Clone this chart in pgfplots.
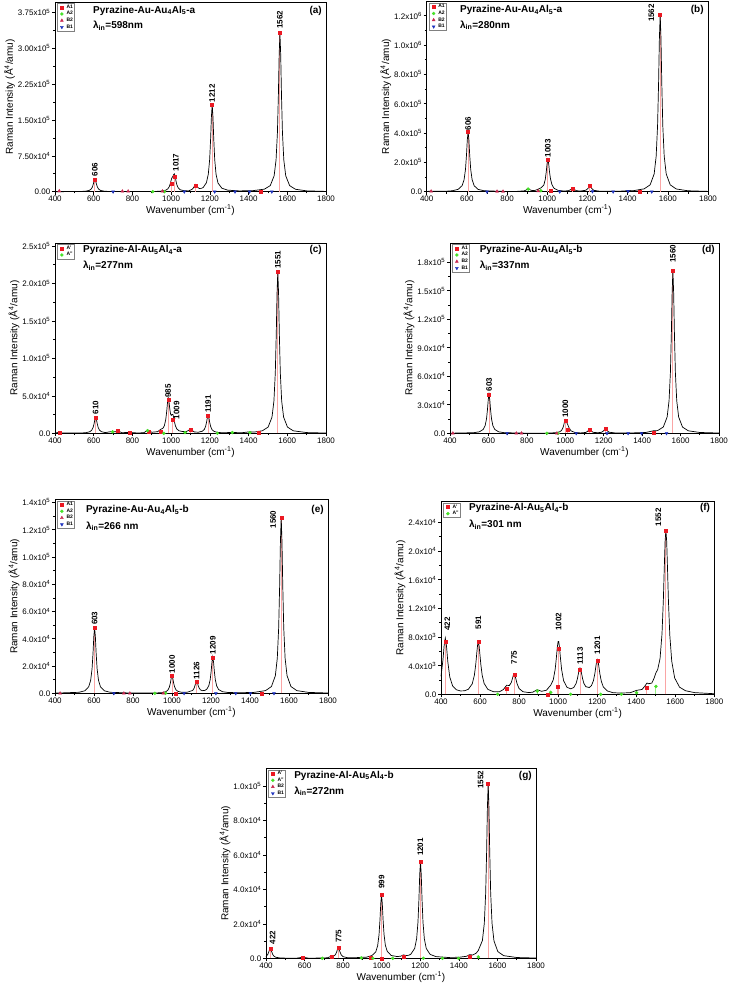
\documentclass[border=0pt]{standalone}
\usepackage{fontspec}
\setmainfont{Liberation Sans}
\usepackage{pgfplots}
\pgfplotsset{compat=1.18}

\definecolor{ra}{RGB}{235,25,35}
\definecolor{ga}{RGB}{70,225,40}
\definecolor{tb}{RGB}{200,40,80}
\definecolor{bb}{RGB}{30,50,190}
\definecolor{pk}{RGB}{250,165,165}
\definecolor{lg}{RGB}{150,240,130}

\pgfplotsset{
  ram/.style={
    scale only axis, anchor=south west, clip=false,
    xmin=400, xmax=1800, ymin=0,
    xtick={400,600,800,1000,1200,1400,1600,1800},
    minor x tick num=1, minor y tick num=1,
    tick align=outside, tick pos=left,
    major tick length=3pt, minor tick length=1.8pt,
    every tick/.style={black, line width=0.6pt},
    axis line style={line width=0.7pt},
    /pgf/number format/assume math mode=true,
    /pgf/number format/1000 sep={},
    ticklabel style={font=\fontsize{8}{9}\selectfont, inner sep=1.5pt},
    xlabel={Wavenumber (cm\textsuperscript{-1})},
    ylabel={Raman Intensity (Å\textsuperscript{4}/amu)},
    label style={font=\fontsize{10}{12}\selectfont},
    xlabel style={yshift=2pt}, ylabel style={yshift=-2pt},
    scaled y ticks=false,
    legend cell align=left,
    legend style={at={(0.008,0.993)}, anchor=north west, draw=gray, line width=0.4pt,
      font=\fontsize{5}{5.5}\selectfont\bfseries, inner sep=0.6pt, row sep=0pt,
      nodes={inner sep=0.8pt}},
    legend image code/.code={\path (0cm,0cm) (0.26cm,0cm); \draw[##1] plot coordinates {(0.13cm,0cm)};},
  },
  curve/.style={black, line width=0.7pt, forget plot},
  stick/.style={ycomb, color=pk, line width=1pt, forget plot, mark=none},
  gstick/.style={ycomb, color=lg, line width=1pt, forget plot, mark=none},
  mA/.style={only marks, mark=square*, mark size=1.5pt, color=ra},
  mB/.style={only marks, mark=*, mark size=1.5pt, color=ga},
  mC/.style={only marks, mark=triangle*, mark size=1.7pt, color=tb},
  mD/.style={only marks, mark=triangle*, mark size=1.7pt, color=bb, every mark/.append style={rotate=180}},
}
\tikzset{
  lab/.style={rotate=90, anchor=west, font=\fontsize{8}{9}\selectfont\bfseries, inner sep=0.5pt},
  ttl/.style={anchor=west, font=\fontsize{10}{12}\selectfont\bfseries, inner sep=0pt},
}

\begin{document}
\begin{tikzpicture}
\path[use as bounding box] (0,0) rectangle (729pt,-992pt);

% (a)
\begin{axis}[ram, at={(55pt,-191.7pt)}, width=271pt, height=189.7pt, ymax=397000,
  ytick={0,75000,150000,225000,300000,375000},
  yticklabels={0.00,7.50x10\textsuperscript{4},1.50x10\textsuperscript{5},2.25x10\textsuperscript{5},3.00x10\textsuperscript{5},3.75x10\textsuperscript{5}}]
\addplot[stick] coordinates {(606,26000)(1003,17500)(1017,31500)(1126,12600)(1212,182000)(1464,1000)(1562,332000)};
\addplot[curve] coordinates {(400,0)(500,230)(526,400)(556,1000)(576,2600)(586,5200)(593,9700)(598,15900)(602,22400)(606,26000)(610,22400)(614,15900)(619,9700)(626,5200)(636,2600)(656,1000)(686,400)(750,100)(850,200)(923,620)(953,1424)(973,3300)(983,6000)(990,10300)(995,16065)(999,22500)(1003,28140)(1007,30835)(1010,32885)(1013,35900)(1017,37415)(1021,31280)(1025,22200)(1030,13830)(1037,7690)(1047,4010)(1067,1980)(1090,1710)(1106,4524)(1113,6865)(1118,10030)(1122,13370)(1126,15290)(1130,13780)(1134,10870)(1139,8260)(1146,6800)(1156,7000)(1166,8950)(1182,18600)(1192,36700)(1199,67700)(1204,111000)(1208,156900)(1212,182000)(1216,156900)(1220,111000)(1225,67700)(1232,36400)(1242,18200)(1262,7370)(1292,3255)(1350,1690)(1420,2060)(1482,5360)(1512,12780)(1532,33200)(1542,66400)(1549,123500)(1554,202500)(1558,286200)(1562,332000)(1566,286200)(1570,202500)(1575,123500)(1582,66400)(1592,33200)(1612,12780)(1642,5110)(1700,1740)(1800,585)};
\addplot[mA] coordinates {(606,26000)(1003,17500)(1017,31500)(1126,12600)(1212,182000)(1464,1000)(1562,332000)};
\addplot[mB] coordinates {(905,0)(965,0)};
\addplot[mC] coordinates {(422,1500)(748,1000)(778,1000)(955,1000)};
\addplot[mD] coordinates {(700,0)(1068,0)(1225,0)(1330,0)(1405,0)(1520,0)};
\legend{A1,A2,B2,B1}
\node[lab] at (axis cs:606,31000) {606};
\node[lab] at (axis cs:1025,41000) {1017};
\node[lab] at (axis cs:1212,186000) {1212};
\node[lab] at (axis cs:1562,340000) {1562};
\node[ttl] at (rel axis cs:0.14,0.955) {Pyrazine-Au-Au\textsubscript{4}Al\textsubscript{5}-a};
\node[ttl] at (rel axis cs:0.14,0.875) {λ\textsubscript{in}=598nm};
\node[ttl, anchor=east] at (rel axis cs:0.985,0.955) {(a)};
\end{axis}

% (b)
\begin{axis}[ram, at={(426.7pt,-191.7pt)}, width=281.3pt, height=190.2pt, ymax=1297000,
  ytick={0,200000,400000,600000,800000,1000000,1200000},
  yticklabels={0.0,2.0x10\textsuperscript{5},4.0x10\textsuperscript{5},6.0x10\textsuperscript{5},8.0x10\textsuperscript{5},1.0x10\textsuperscript{6},1.2x10\textsuperscript{6}}]
\addplot[stick] coordinates {(606,409000)(1003,218000)(1018,7000)(1126,23000)(1212,39000)(1462,3000)(1562,1210000)};
\addplot[curve] coordinates {(400,1500)(422,4200)(445,2600)(500,3600)(526,6300)(556,15700)(576,40900)(586,81800)(593,152100)(598,249500)(602,352600)(606,409000)(610,352600)(614,249500)(619,152100)(626,81800)(636,40900)(656,15750)(686,6300)(750,3500)(800,1800)(850,2200)(885,5700)(895,11300)(905,20650)(915,12200)(925,8000)(940,9050)(955,17400)(968,25760)(983,46300)(990,83100)(995,135000)(999,190000)(1003,220000)(1007,191200)(1011,137700)(1016,87800)(1023,49200)(1033,24000)(1053,9400)(1083,4500)(1106,7000)(1116,13600)(1126,24950)(1136,13400)(1146,6540)(1166,4700)(1192,9800)(1202,21350)(1212,40800)(1222,20850)(1232,9200)(1262,2850)(1320,2400)(1380,4500)(1402,7700)(1430,7240)(1462,15000)(1482,19200)(1512,46600)(1532,121000)(1542,242000)(1549,450000)(1554,738000)(1558,1043000)(1562,1210000)(1566,1043000)(1570,738000)(1575,450000)(1582,242000)(1592,121000)(1612,46600)(1642,18600)(1700,6335)(1800,2134)};
\addplot[mA] coordinates {(606,409000)(1003,218000)(1018,7000)(1126,23000)(1212,39000)(1462,3000)(1562,1210000)};
\addplot[mB] coordinates {(905,18000)(968,7000)};
\addplot[mC] coordinates {(422,3000)(750,2000)(780,2000)(955,5000)};
\addplot[mD] coordinates {(700,0)(1062,0)(1225,2000)(1328,0)(1402,3000)(1520,0)};
\legend{A1,A2,B2,B1}
\node[lab] at (axis cs:606,414000) {606};
\node[lab] at (axis cs:1003,230000) {1003};
\node[lab, anchor=east] at (axis cs:1518,1284000) {1562};
\node[ttl] at (rel axis cs:0.118,0.955) {Pyrazine-Au-Au\textsubscript{4}Al\textsubscript{5}-a};
\node[ttl] at (rel axis cs:0.118,0.875) {λ\textsubscript{in}=280nm};
\node[ttl, anchor=east] at (rel axis cs:0.985,0.955) {(b)};
\end{axis}

% (c)
\begin{axis}[ram, at={(55pt,-433.3pt)}, width=271pt, height=190.3pt, ymax=254000,
  ytick={0,50000,100000,150000,200000,250000},
  yticklabels={0.0,5.0x10\textsuperscript{4},1.0x10\textsuperscript{5},1.5x10\textsuperscript{5},2.0x10\textsuperscript{5},2.5x10\textsuperscript{5}}]
\addplot[stick] coordinates {(422,1300)(610,21300)(725,3000)(787,1000)(882,2500)(946,2000)(985,44500)(1009,18700)(1100,4400)(1191,24000)(1452,500)(1551,216000)};
\addplot[curve] coordinates {(400,300)(422,1350)(440,370)(530,330)(560,820)(580,2130)(590,4260)(597,7920)(602,13000)(606,18360)(610,21300)(614,18360)(618,13000)(623,7920)(630,4260)(640,2130)(660,950)(698,2630)(712,2000)(725,3420)(745,840)(787,1150)(830,350)(860,900)(880,4400)(900,1400)(930,2150)(946,5280)(958,6880)(965,10250)(972,18080)(977,28800)(981,40500)(985,47300)(989,42100)(993,32400)(997,25900)(1001,23900)(1005,25000)(1009,25300)(1013,21150)(1017,15400)(1022,10060)(1029,6000)(1040,3420)(1060,2280)(1080,2540)(1100,5360)(1120,1740)(1141,1480)(1161,2800)(1171,5000)(1178,9130)(1183,14840)(1187,20900)(1191,24200)(1195,20900)(1199,14840)(1204,9130)(1211,5000)(1221,2600)(1241,1150)(1271,650)(1316,1300)(1360,600)(1407,2040)(1430,1630)(1451,2640)(1471,3330)(1501,8320)(1521,21600)(1531,43200)(1538,80350)(1543,131800)(1547,186200)(1551,216000)(1555,186200)(1559,131800)(1564,80350)(1571,43200)(1581,21600)(1601,8320)(1631,3330)(1700,970)(1800,350)};
\addplot[mA] coordinates {(422,1300)(610,21300)(725,3000)(787,1000)(882,2500)(946,2000)(985,44500)(1009,18700)(1100,4400)(1191,24000)(1452,500)(1551,216000)};
\addplot[mB] coordinates {(698,2000)(878,3500)(962,0)(1072,1000)(1239,0)(1316,1000)(1407,1000)};
\legend{A',A''}
\node[lab] at (axis cs:610,24500) {610};
\node[lab] at (axis cs:985,46700) {985};
\node[lab] at (axis cs:1028,17800) {1009};
\node[lab] at (axis cs:1191,26700) {1191};
\node[lab] at (axis cs:1551,219000) {1551};
\node[ttl] at (rel axis cs:0.103,0.963) {Pyrazine-Al-Au\textsubscript{5}Al\textsubscript{4}-a};
\node[ttl] at (rel axis cs:0.103,0.879) {λ\textsubscript{in}=277nm};
\node[ttl, anchor=east] at (rel axis cs:0.985,0.963) {(c)};
\end{axis}

% (d)
\begin{axis}[ram, at={(450pt,-433.3pt)}, width=269pt, height=190.3pt, ymax=200000,
  ytick={0,30000,60000,90000,120000,150000,180000},
  yticklabels={0.0,3.0x10\textsuperscript{4},6.0x10\textsuperscript{4},9.0x10\textsuperscript{4},1.2x10\textsuperscript{5},1.5x10\textsuperscript{5},1.8x10\textsuperscript{5}}]
\addplot[stick] coordinates {(603,41000)(1000,13000)(1014,4200)(1126,4000)(1209,4900)(1459,1000)(1560,171000)};
\addplot[curve] coordinates {(400,100)(523,630)(553,1580)(573,4100)(583,8200)(590,15250)(595,25000)(599,35340)(603,41000)(607,35340)(611,25000)(616,15250)(623,8200)(633,4100)(653,1580)(683,630)(800,140)(900,160)(950,600)(970,1500)(980,2930)(987,5350)(992,8650)(996,12200)(1000,14420)(1004,13300)(1008,11020)(1013,9000)(1020,5700)(1030,2500)(1050,860)(1080,400)(1106,900)(1116,2000)(1126,4100)(1136,2200)(1146,1000)(1170,600)(1189,1100)(1199,2560)(1209,5020)(1219,2560)(1229,1100)(1260,370)(1350,400)(1420,930)(1459,2660)(1480,2810)(1510,6580)(1530,17100)(1540,34200)(1547,63600)(1552,104300)(1556,147400)(1560,171000)(1564,147400)(1568,104300)(1573,63600)(1580,34200)(1590,17100)(1610,6580)(1640,2630)(1700,868)(1800,296)};
\addplot[mA] coordinates {(603,41000)(1000,13000)(1014,4200)(1126,4000)(1209,4900)(1459,1000)(1560,171000)};
\addplot[mB] coordinates {(904,0)(962,0)};
\addplot[mC] coordinates {(415,0)(745,0)(772,0)(956,0)};
\addplot[mD] coordinates {(697,0)(1057,0)(1217,0)(1327,0)(1397,0)(1527,0)};
\legend{A1,A2,B2,B1}
\node[lab] at (axis cs:603,43700) {603};
\node[lab] at (axis cs:1000,15500) {1000};
\node[lab] at (axis cs:1560,178500) {1560};
\node[ttl] at (rel axis cs:0.11,0.963) {Pyrazine-Au-Au\textsubscript{4}Al\textsubscript{5}-b};
\node[ttl] at (rel axis cs:0.11,0.879) {λ\textsubscript{in}=337nm};
\node[ttl, anchor=east] at (rel axis cs:0.985,0.963) {(d)};
\end{axis}

% (e)
\begin{axis}[ram, at={(55pt,-693.3pt)}, width=273pt, height=194pt, ymax=142200,
  ytick={0,20000,40000,60000,80000,100000,120000,140000},
  yticklabels={0.0,2.0x10\textsuperscript{4},4.0x10\textsuperscript{4},6.0x10\textsuperscript{4},8.0x10\textsuperscript{4},1.0x10\textsuperscript{5},1.2x10\textsuperscript{5},1.4x10\textsuperscript{5}}]
\addplot[stick] coordinates {(603,48100)(1000,12700)(1018,0)(1126,8550)(1209,26400)(1460,0)(1560,129000)};
\addplot[curve] coordinates {(400,120)(523,740)(553,1850)(573,4810)(583,9620)(590,17900)(595,29300)(599,41460)(603,48100)(607,41460)(611,29300)(616,17900)(623,9620)(633,4810)(653,1850)(683,740)(800,160)(920,250)(950,520)(970,1300)(980,2580)(987,4770)(992,7800)(996,11000)(1000,12760)(1004,11000)(1008,7800)(1013,4850)(1020,2620)(1030,1450)(1050,740)(1076,700)(1106,2130)(1113,3630)(1118,5700)(1122,7870)(1126,9090)(1130,7950)(1134,5840)(1139,3870)(1146,2520)(1156,1920)(1169,2160)(1179,3100)(1189,5670)(1196,10170)(1201,16400)(1205,23060)(1209,26700)(1213,22960)(1217,16300)(1222,10020)(1229,5480)(1239,2770)(1259,1160)(1289,580)(1350,420)(1420,660)(1480,1990)(1510,4970)(1530,12900)(1540,25800)(1547,48000)(1552,78700)(1556,111200)(1560,129000)(1564,111200)(1568,78700)(1573,48000)(1580,25800)(1590,12900)(1610,4970)(1640,1990)(1700,655)(1800,224)};
\addplot[mA] coordinates {(603,48100)(1000,12700)(1018,0)(1126,8550)(1209,26400)(1460,0)(1560,129000)};
\addplot[mB] coordinates {(912,0)(967,0)};
\addplot[mC] coordinates {(426,0)(753,0)(784,0)(955,0)};
\addplot[mD] coordinates {(702,0)(1062,0)(1225,0)(1327,0)(1402,0)(1523,0)};
\legend{A1,A2,B2,B1}
\node[lab] at (axis cs:603,49600) {603};
\node[lab] at (axis cs:1000,14200) {1000};
\node[lab] at (axis cs:1126,9800) {1126};
\node[lab] at (axis cs:1209,28100) {1209};
\node[lab, anchor=east] at (axis cs:1518,134400) {1560};
\node[ttl] at (rel axis cs:0.113,0.945) {Pyrazine-Au-Au\textsubscript{4}Al\textsubscript{5}-b};
\node[ttl] at (rel axis cs:0.113,0.862) {λ\textsubscript{in}=266 nm};
\node[ttl, anchor=east] at (rel axis cs:0.985,0.945) {(e)};
\end{axis}

% (f)
\begin{axis}[ram, at={(441pt,-694.3pt)}, width=273.3pt, height=192.6pt, ymax=26900,
  ytick={0,4000,8000,12000,16000,20000,24000},
  yticklabels={0.0,4.0x10\textsuperscript{3},8.0x10\textsuperscript{3},1.2x10\textsuperscript{4},1.6x10\textsuperscript{4},2.0x10\textsuperscript{4},2.4x10\textsuperscript{4}}]
\addplot[stick] coordinates {(422,7300)(591,7300)(736,840)(775,2800)(946,0)(998,1070)(1002,6340)(1113,3400)(1201,4660)(1455,930)(1552,22800)};
\addplot[gstick] coordinates {(893,460)(962,280)(1402,230)(1501,1100)};
\addplot[curve] coordinates {(400,2520)(410,4800)(416,6770)(422,7860)(428,6780)(435,4510)(445,2400)(460,1140)(480,620)(500,470)(520,490)(540,700)(560,1460)(571,2670)(578,4190)(583,5670)(587,6800)(591,7290)(595,6790)(599,5660)(604,4170)(611,2650)(621,1510)(640,690)(670,350)(700,360)(720,680)(736,1260)(750,1230)(760,1640)(767,2310)(771,2700)(775,2850)(779,2650)(783,2220)(790,1450)(800,810)(820,360)(850,240)(870,300)(893,650)(915,420)(940,570)(962,1275)(975,2010)(985,3520)(991,5120)(996,6620)(1000,7380)(1003,7370)(1007,6550)(1012,5020)(1018,3430)(1028,1900)(1045,990)(1065,760)(1080,950)(1092,1510)(1099,2210)(1104,2910)(1108,3440)(1112,3670)(1116,3450)(1120,2920)(1125,2210)(1132,1520)(1142,1065)(1160,940)(1171,1230)(1181,1920)(1188,2880)(1193,3830)(1197,4550)(1201,4855)(1205,4540)(1209,3810)(1214,2840)(1221,1850)(1231,1050)(1251,480)(1280,230)(1320,170)(1370,230)(1402,550)(1430,680)(1446,1210)(1455,1570)(1464,1480)(1480,1570)(1492,2280)(1501,3005)(1510,3460)(1522,4980)(1532,8420)(1539,13180)(1544,17870)(1548,21415)(1552,22905)(1556,21385)(1560,17820)(1565,13090)(1572,8270)(1582,4610)(1597,2280)(1622,1000)(1652,502)(1700,232)(1800,83)};
\addplot[mA] coordinates {(422,7300)(591,7300)(736,840)(775,2800)(946,0)(998,1070)(1002,6340)(1113,3400)(1201,4660)(1455,930)(1552,22800)};
\addplot[mB] coordinates {(690,0)(893,460)(962,280)(1064,0)(1218,0)(1324,0)(1402,230)(1501,1100)};
\legend{A',A''}
\node[lab] at (axis cs:432,8800) {422};
\node[lab] at (axis cs:591,9000) {591};
\node[lab] at (axis cs:775,4100) {775};
\node[lab] at (axis cs:1002,8800) {1002};
\node[lab] at (axis cs:1113,4100) {1113};
\node[lab] at (axis cs:1201,5500) {1201};
\node[lab] at (axis cs:1513,23400) {1552};
\node[ttl] at (rel axis cs:0.102,0.967) {Pyrazine-Al-Au\textsubscript{5}Al\textsubscript{4}-b};
\node[ttl] at (rel axis cs:0.102,0.879) {λ\textsubscript{in}=301 nm};
\node[ttl, anchor=east] at (rel axis cs:0.985,0.967) {(f)};
\end{axis}

% (g)
\begin{axis}[ram, at={(266pt,-958.3pt)}, width=270pt, height=190pt, ymax=110300,
  ytick={0,20000,40000,60000,80000,100000},
  yticklabels={0.0,2.0x10\textsuperscript{4},4.0x10\textsuperscript{4},6.0x10\textsuperscript{4},8.0x10\textsuperscript{4},1.0x10\textsuperscript{5}}]
\addplot[stick] coordinates {(422,5800)(591,600)(740,800)(775,6200)(945,300)(999,36700)(1113,1000)(1201,56100)(1456,1000)(1552,101500)};
\addplot[gstick] coordinates {(894,200)(1501,800)};
\addplot[curve] coordinates {(400,1000)(410,2380)(416,4260)(422,5830)(428,4260)(435,2160)(442,1160)(452,580)(472,223)(502,100)(560,90)(591,650)(620,90)(700,160)(720,360)(740,1270)(750,1260)(760,2070)(767,3880)(771,5420)(775,6340)(779,5470)(783,3900)(790,2020)(800,950)(820,410)(855,280)(894,570)(919,600)(949,1600)(969,3670)(979,7340)(986,13650)(991,22390)(995,31630)(999,36840)(1003,31770)(1007,22530)(1012,13790)(1019,7480)(1029,4000)(1049,1660)(1079,1020)(1099,1240)(1113,2000)(1127,1565)(1141,1810)(1151,2390)(1171,5730)(1181,11320)(1188,20970)(1193,34320)(1197,48460)(1201,56280)(1205,48460)(1209,34320)(1214,20970)(1221,11320)(1231,5710)(1251,2270)(1281,1000)(1340,515)(1400,580)(1440,1190)(1456,2130)(1472,1930)(1490,3020)(1501,4600)(1522,10300)(1532,20380)(1539,37760)(1544,61900)(1548,87500)(1552,101500)(1556,87500)(1560,61900)(1565,37760)(1572,20300)(1582,10150)(1602,3910)(1632,1560)(1700,460)(1800,165)};
\addplot[mA] coordinates {(422,5800)(591,600)(740,800)(775,6200)(945,300)(999,36700)(1000,0)(1113,1000)(1201,56100)(1456,1000)(1552,101500)};
\addplot[mB] coordinates {(692,0)(894,200)(954,0)(1057,0)(1216,0)(1315,0)(1398,0)(1501,800)};
\addlegendimage{mC}
\addlegendimage{mD}
\legend{A',A'',B2,B1}
\node[lab] at (axis cs:434,7700) {422};
\node[lab] at (axis cs:777,8500) {775};
\node[lab] at (axis cs:999,40000) {999};
\node[lab] at (axis cs:1201,59000) {1201};
\node[lab, anchor=east] at (axis cs:1513,109300) {1552};
\node[ttl] at (rel axis cs:0.104,0.96) {Pyrazine-Al-Au\textsubscript{5}Al\textsubscript{4}-b};
\node[ttl] at (rel axis cs:0.104,0.88) {λ\textsubscript{in}=272nm};
\node[ttl, anchor=east] at (rel axis cs:0.985,0.96) {(g)};
\end{axis}
\end{tikzpicture}
\end{document}
